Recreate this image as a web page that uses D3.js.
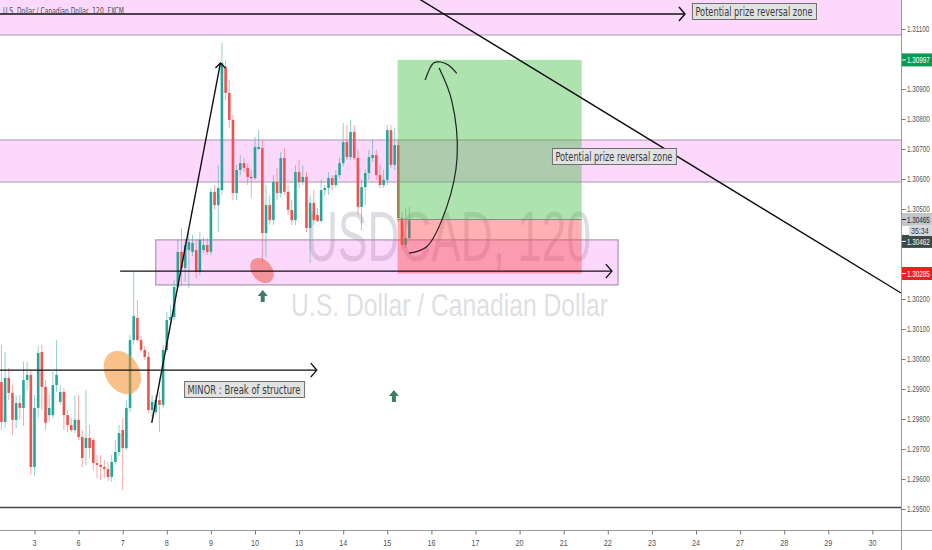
<!DOCTYPE html>
<html><head><meta charset="utf-8">
<script src="https://cdn.jsdelivr.net/npm/d3@7"></script>
<style>
html,body{margin:0;padding:0;background:#fff;overflow:hidden}
svg{display:block}
</style></head><body>
<svg id="c" width="932" height="550"></svg>
<script>
// ---------- DATA ----------
const title = "U.S. Dollar / Canadian Dollar, 120, FXCM";
const watermark1 = "USDCAD, 120";
const watermark2 = "U.S. Dollar / Canadian Dollar";
const dayLabels = ["3","6","7","8","9","10","13","14","15","16","17","20","21","22","23","24","27","28","29","30"];
const barsPerDay = 12;
const firstBar = -9;
// [open, high, low, close] per 120-minute bar
const candles = [
 [1.29923,1.30047,1.29763,1.29790],[1.29790,1.30023,1.29770,1.29937],[1.29937,1.29970,1.29863,1.29887],
 [1.29887,1.29913,1.29747,1.29797],[1.29797,1.29877,1.29770,1.29853],[1.29853,1.29880,1.29797,1.29837],
 [1.29837,1.29990,1.29777,1.29930],[1.29930,1.29990,1.29897,1.29947],[1.29947,1.29963,1.29613,1.29640],
 [1.29640,1.29880,1.29610,1.29837],[1.29837,1.30043,1.29803,1.30020],[1.30023,1.30047,1.29830,1.29907],
 [1.29907,1.29930,1.29763,1.29787],[1.29813,1.29880,1.29790,1.29837],[1.29813,1.29957,1.29803,1.29913],
 [1.29913,1.30063,1.29890,1.29947],[1.29857,1.29913,1.29847,1.29890],[1.29890,1.29903,1.29763,1.29813],
 [1.29813,1.29830,1.29757,1.29780],[1.29780,1.29803,1.29757,1.29763],[1.29763,1.29880,1.29753,1.29797],
 [1.29797,1.29880,1.29730,1.29740],[1.29740,1.29763,1.29640,1.29670],[1.29703,1.29897,1.29647,1.29737],
 [1.29737,1.29780,1.29670,1.29703],[1.29730,1.29737,1.29630,1.29653],[1.29653,1.29680,1.29603,1.29647],
 [1.29647,1.29680,1.29597,1.29640],[1.29640,1.29663,1.29603,1.29633],[1.29633,1.29657,1.29593,1.29607],
 [1.29607,1.29680,1.29590,1.29657],[1.29657,1.29730,1.29647,1.29690],[1.29690,1.29780,1.29677,1.29753],
 [1.29763,1.29803,1.29563,1.29703],[1.29703,1.29863,1.29697,1.29837],[1.29837,1.30080,1.29823,1.30063],
 [1.30063,1.30290,1.30047,1.30143],[1.30137,1.30197,1.30057,1.30063],[1.30063,1.30077,1.30023,1.30030],
 [1.30030,1.30043,1.29997,1.30007],[1.30007,1.30023,1.29820,1.29830],[1.29830,1.29880,1.29803,1.29857],
 [1.29823,1.29880,1.29813,1.29863],[1.29863,1.29890,1.29757,1.29847],[1.29847,1.30047,1.29837,1.30030],
 [1.30030,1.30157,1.30023,1.30130],[1.30130,1.30180,1.30120,1.30140],[1.30140,1.30263,1.30130,1.30240],
 [1.30240,1.30397,1.30230,1.30357],[1.30357,1.30437,1.30247,1.30303],[1.30303,1.30403,1.30257,1.30380],
 [1.30363,1.30423,1.30237,1.30390],[1.30357,1.30413,1.30343,1.30387],[1.30363,1.30397,1.30270,1.30290],
 [1.30290,1.30423,1.30280,1.30397],[1.30363,1.30407,1.30353,1.30380],[1.30380,1.30403,1.30347,1.30357],
 [1.30357,1.30570,1.30347,1.30557],[1.30557,1.30580,1.30497,1.30513],[1.30513,1.30647,1.30423,1.30570],
 [1.30563,1.31053,1.30547,1.30987],[1.30973,1.30997,1.30863,1.30887],[1.30887,1.30930,1.30770,1.30797],
 [1.30797,1.30813,1.30530,1.30553],[1.30553,1.30647,1.30530,1.30630],[1.30630,1.30680,1.30613,1.30653],
 [1.30653,1.30670,1.30623,1.30637],[1.30637,1.30653,1.30580,1.30607],[1.30607,1.30630,1.30537,1.30603],
 [1.30603,1.30740,1.30597,1.30707],[1.30700,1.30763,1.30697,1.30707],[1.30703,1.30730,1.30323,1.30420],
 [1.30420,1.30580,1.30337,1.30513],[1.30513,1.30547,1.30447,1.30463],[1.30463,1.30613,1.30447,1.30590],
 [1.30590,1.30637,1.30530,1.30553],[1.30553,1.30690,1.30537,1.30670],[1.30670,1.30703,1.30547,1.30557],
 [1.30557,1.30580,1.30480,1.30497],[1.30497,1.30530,1.30447,1.30463],[1.30463,1.30647,1.30447,1.30623],
 [1.30623,1.30663,1.30570,1.30590],[1.30590,1.30647,1.30580,1.30607],[1.30607,1.30623,1.30423,1.30437],
 [1.30437,1.30547,1.30320,1.30520],[1.30520,1.30563,1.30447,1.30463],[1.30480,1.30503,1.30457,1.30460],
 [1.30460,1.30597,1.30453,1.30563],[1.30563,1.30580,1.30543,1.30570],[1.30570,1.30623,1.30547,1.30603],
 [1.30603,1.30613,1.30563,1.30580],[1.30580,1.30630,1.30570,1.30613],[1.30613,1.30670,1.30603,1.30653],
 [1.30653,1.30787,1.30643,1.30723],[1.30723,1.30780,1.30663,1.30673],[1.30673,1.30797,1.30663,1.30757],
 [1.30757,1.30780,1.30663,1.30670],[1.30670,1.30697,1.30480,1.30507],[1.30507,1.30597,1.30430,1.30573],
 [1.30573,1.30630,1.30513,1.30620],[1.30620,1.30697,1.30597,1.30673],[1.30670,1.30730,1.30657,1.30680],
 [1.30680,1.30697,1.30597,1.30613],[1.30613,1.30647,1.30570,1.30580],[1.30580,1.30630,1.30570,1.30597],
 [1.30597,1.30780,1.30580,1.30763],[1.30763,1.30780,1.30637,1.30647],[1.30647,1.30770,1.30630,1.30713],
 [1.30713,1.30730,1.30457,1.30470],[1.30470,1.30490,1.30363,1.30380],[1.30380,1.30503,1.30370,1.30403],
 [1.30403,1.30507,1.30397,1.30462]
];
const priceTicks = [1.295,1.296,1.297,1.298,1.299,1.300,1.301,1.302,1.303,1.304,1.305,1.306,1.307,1.308,1.309,1.310,1.311];
// annotations (bar index, price)
const zones = [ {top:1.31250, bottom:1.31080}, {top:1.30730, bottom:1.30590} ];
const supportBox = {bar0:33, bar1:158.8, top:1.30397, bottom:1.30247};
const position = {bar0:98.8, bar1:148.9, target:1.30997, entry:1.30465, stop:1.30285};
const hLines = [
  {price:1.31150, bar0:-12, bar1:177.0, arrow:true},
  {price:1.30293, bar0:23.3, bar1:157.1, arrow:true},
  {price:1.29963, bar0:-12, bar1:76.8, arrow:true},
  {price:1.29505, bar0:-12, bar1:260, arrow:false, w:1.6, color:"#444"}
];
const impulse = [[31.9,1.29787],[50.6,1.30987]];
const trendLine = [[104.7,1.31200],[235.8,1.30220]];
const curvePath = [[101.9,1.30353],[106.7,1.30374],[112.2,1.30508],[115.0,1.30674],[113.5,1.30863],[110.1,1.30970]];
const curveHead = [[106.3,1.30930],[108.6,1.30987],[110.5,1.30990],[112.6,1.30980],[114.9,1.30952]];
const labels = [
  {text:"Potential prize reversal zone", bar:178.9, price:1.31160, w:124},
  {text:"Potential prize reversal zone", bar:140.8, price:1.30675, w:124},
  {text:"MINOR : Break of structure", bar:40.7, price:1.29900, w:120}
];
const ellipses = [
  {bar:23.9, price:1.29955, rx:23, ry:17, rot:60, fill:"rgba(245,140,40,0.55)"},
  {bar:61.9, price:1.30295, rx:14, ry:10, rot:50, fill:"rgba(235,90,70,0.55)"}
];
const upArrows = [[62.1,1.30210],[97.8,1.29877]];
const axisBadges = [
  {price:1.30997, text:"1.30997", bg:"#0b9a52", fg:"#fff", dy:0},
  {price:1.30465, text:"1.30465", bg:"#c3c6cc", fg:"#222", dy:0},
  {price:1.30462, text:"1.30462", bg:"#3b4a45", fg:"#fff", dy:21},
  {price:1.30285, text:"1.30285", bg:"#ef1f1f", fg:"#fff", dy:0}
];
const countdown = "35:34";

// ---------- SCALES ----------
const W = 932, H = 550, plotW = 901, plotH = 530;
const x = d3.scaleLinear().domain([0, 19*barsPerDay]).range([34.5, 872.4]);
const y = d3.scaleLinear().domain([1.295, 1.311]).range([509, 29]);
const svg = d3.select("#c");
const axisFont = "'Liberation Sans',Arial,sans-serif";
const narrow = "'Liberation Sans Narrow','Arial Narrow','DejaVu Sans Condensed','Roboto Condensed',sans-serif";

// text squeezed horizontally (TradingView's condensed UI font)
function squeezed(parent, tx, ty, str, size, sx, fill, anchor){
  return parent.append("text").attr("transform",`translate(${tx},${ty}) scale(${sx},1)`)
    .attr("font-family",axisFont).attr("font-size",size).attr("fill",fill)
    .attr("text-anchor",anchor||"start").text(str);
}

svg.append("defs").append("clipPath").attr("id","plot")
  .append("rect").attr("x",0).attr("y",0).attr("width",plotW).attr("height",plotH);
svg.append("rect").attr("width",W).attr("height",H).attr("fill","#fff");
const g = svg.append("g").attr("clip-path","url(#plot)");

// watermark
g.append("text").attr("x",306).attr("y",261).attr("font-family","Arial,'Liberation Sans',sans-serif")
  .attr("font-size",70).attr("fill","rgba(140,140,158,0.3)")
  .attr("textLength",285).attr("lengthAdjust","spacingAndGlyphs").text(watermark1);
g.append("text").attr("x",291).attr("y",316).attr("font-family","Arial,'Liberation Sans',sans-serif")
  .attr("font-size",32).attr("fill","rgba(140,140,158,0.3)")
  .attr("textLength",317).attr("lengthAdjust","spacingAndGlyphs").text(watermark2);

// zones
const pink = "rgba(245,60,245,0.2)", zoneStroke = "#a897ab";
zones.forEach(z=>{
  g.append("rect").attr("x",0).attr("width",plotW)
   .attr("y",y(z.top)).attr("height",y(z.bottom)-y(z.top)).attr("fill",pink);
  [z.top,z.bottom].forEach(p=>g.append("line").attr("x1",0).attr("x2",plotW)
   .attr("y1",y(p)).attr("y2",y(p)).attr("stroke",zoneStroke).attr("stroke-width",1.2));
});
g.append("rect").attr("x",x(supportBox.bar0)).attr("y",y(supportBox.top))
  .attr("width",x(supportBox.bar1)-x(supportBox.bar0)).attr("height",y(supportBox.bottom)-y(supportBox.top))
  .attr("fill",pink).attr("stroke",zoneStroke).attr("stroke-width",1.2);

// candles
const up = "#26a69a", dn = "#ef5350";
const cg = g.append("g");
const bw = 2.6;
cg.selectAll("line").data(candles).join("line")
  .attr("x1",(d,i)=>x(firstBar+i)).attr("x2",(d,i)=>x(firstBar+i))
  .attr("y1",d=>y(d[1])).attr("y2",d=>y(d[2]))
  .attr("stroke",d=>d[3]>=d[0]?up:dn).attr("stroke-opacity",0.5).attr("stroke-width",1);
cg.selectAll("rect").data(candles).join("rect")
  .attr("x",(d,i)=>x(firstBar+i)-bw/2).attr("width",bw)
  .attr("y",d=>y(Math.max(d[0],d[3])))
  .attr("height",d=>Math.max(1,Math.abs(y(d[0])-y(d[3]))))
  .attr("fill",d=>d[3]>=d[0]?up:dn);

// ellipses
ellipses.forEach(e=>{
  g.append("ellipse").attr("rx",e.rx).attr("ry",e.ry).attr("fill",e.fill)
   .attr("transform",`translate(${x(e.bar)},${y(e.price)}) rotate(${e.rot})`);
});

// position tool
g.append("rect").attr("x",x(position.bar0)).attr("width",x(position.bar1)-x(position.bar0))
  .attr("y",y(position.target)).attr("height",y(position.entry)-y(position.target))
  .attr("fill","rgba(76,190,76,0.45)");
g.append("rect").attr("x",x(position.bar0)).attr("width",x(position.bar1)-x(position.bar0))
  .attr("y",y(position.entry)).attr("height",y(position.stop)-y(position.entry))
  .attr("fill","rgba(255,70,70,0.42)");
g.append("line").attr("x1",x(position.bar0)).attr("x2",x(position.bar1))
  .attr("y1",y(position.entry)).attr("y2",y(position.entry)).attr("stroke","#8a8a8a").attr("stroke-width",1);

// horizontal lines
hLines.forEach(l=>{
  const yy = y(l.price), xe = x(l.bar1);
  g.append("line").attr("x1",x(l.bar0)).attr("x2",xe).attr("y1",yy).attr("y2",yy)
   .attr("stroke",l.color||"#111").attr("stroke-width",l.w||1.4);
  if(l.arrow) g.append("path").attr("d",`M${xe-6},${yy-7}L${xe},${yy}L${xe-6},${yy+7}`)
   .attr("fill","none").attr("stroke","#111").attr("stroke-width",1.4);
});

// impulse line with arrow head
const [p0,p1] = impulse.map(d=>[x(d[0]),y(d[1])]);
g.append("line").attr("x1",p0[0]).attr("y1",p0[1]).attr("x2",p1[0]).attr("y2",p1[1])
  .attr("stroke","#111").attr("stroke-width",1.4);
g.append("path").attr("d",`M${p1[0]-5},${p1[1]+5}L${p1[0]},${p1[1]}L${p1[0]+5},${p1[1]+5}`)
  .attr("fill","none").attr("stroke","#111").attr("stroke-width",1.4);

// trend line
g.append("line").attr("x1",x(trendLine[0][0])).attr("y1",y(trendLine[0][1]))
  .attr("x2",x(trendLine[1][0])).attr("y2",y(trendLine[1][1]))
  .attr("stroke","#111").attr("stroke-width",1.4);

// freehand curve
const lineGen = d3.line().x(d=>x(d[0])).y(d=>y(d[1])).curve(d3.curveCatmullRom);
g.append("path").attr("d",lineGen(curvePath)).attr("fill","none").attr("stroke","#222").attr("stroke-width",1.2);
g.append("path").attr("d",lineGen(curveHead)).attr("fill","none").attr("stroke","#222").attr("stroke-width",1.2);

// up arrows
upArrows.forEach(a=>{
  const ax = x(a[0]), ay = y(a[1]);
  g.append("path").attr("d",`M${ax},${ay-6}L${ax+5},${ay}L${ax+2},${ay}L${ax+2},${ay+6}L${ax-2},${ay+6}L${ax-2},${ay}L${ax-5},${ay}Z`)
   .attr("fill","#3b7f63");
});

// labels
labels.forEach(l=>{
  const lx = x(l.bar), ly = y(l.price);
  g.append("rect").attr("x",lx+0.5).attr("y",Math.round(ly-8)+0.5).attr("width",l.w).attr("height",16)
   .attr("fill","#e2e2e2").attr("stroke","#6e6e6e").attr("stroke-width",1);
  g.append("text").attr("x",lx+3.5).attr("y",Math.round(ly)+4.5).attr("font-family",narrow).attr("font-size",11.5)
   .attr("fill","#3a3a3a").attr("textLength",l.w-7).attr("lengthAdjust","spacingAndGlyphs").text(l.text);
});

// title
g.append("text").attr("x",3).attr("y",14).attr("font-family",narrow).attr("font-size",9)
  .attr("fill","#4a4a4a").attr("textLength",121).attr("lengthAdjust","spacingAndGlyphs").text(title);

// ---------- AXES ----------
svg.append("line").attr("x1",plotW+0.5).attr("x2",plotW+0.5).attr("y1",0).attr("y2",H).attr("stroke","#9a9a9a");
svg.append("line").attr("x1",0).attr("x2",W).attr("y1",plotH+0.5).attr("y2",plotH+0.5).attr("stroke","#9a9a9a");

// price axis: ticks via d3 axis, labels squeezed; labels under a badge are hidden
const badgeYs = axisBadges.map(b=>y(b.price)+b.dy);
const ya = svg.append("g").attr("transform",`translate(${plotW+0.5},0)`)
  .call(d3.axisRight(y).tickValues(priceTicks).tickFormat("").tickSize(4));
ya.select(".domain").remove();
ya.selectAll("line").attr("stroke","#777");
const yl = svg.append("g");
priceTicks.filter(p=>!badgeYs.some(b=>Math.abs(b-y(p))<9)).forEach(p=>{
  squeezed(yl, plotW+6, y(p)+3.2, d3.format(".5f")(p), 9, 0.7, "#555");
});

const xa = svg.append("g").attr("transform",`translate(0,${plotH+0.5})`)
  .call(d3.axisBottom(x).tickValues(d3.range(0,dayLabels.length*barsPerDay,barsPerDay))
    .tickFormat("").tickSize(4));
xa.select(".domain").remove();
xa.selectAll("line").attr("stroke","#777");
dayLabels.forEach((lab,i)=>{
  squeezed(xa, x(i*barsPerDay), 15, lab, 9, 0.8, "#555", "middle");
});

// badges on price axis
axisBadges.forEach(b=>{
  const by = y(b.price) + b.dy;
  svg.append("rect").attr("x",plotW+1).attr("y",by-6.5).attr("width",W-plotW-1).attr("height",13).attr("fill",b.bg);
  svg.append("line").attr("x1",plotW+1).attr("x2",plotW+5).attr("y1",by).attr("y2",by).attr("stroke",b.fg);
  squeezed(svg, plotW+6, by+3.2, b.text, 9, 0.7, b.fg);
});
{
  const cy = y(1.30465) + 11;
  svg.append("rect").attr("x",plotW+8).attr("y",cy-5.5).attr("width",W-plotW-8).attr("height",11).attr("fill","#d6d8dc");
  squeezed(svg, plotW+10, cy+3.2, countdown, 9, 0.78, "#333");
}
</script>
</body></html>
